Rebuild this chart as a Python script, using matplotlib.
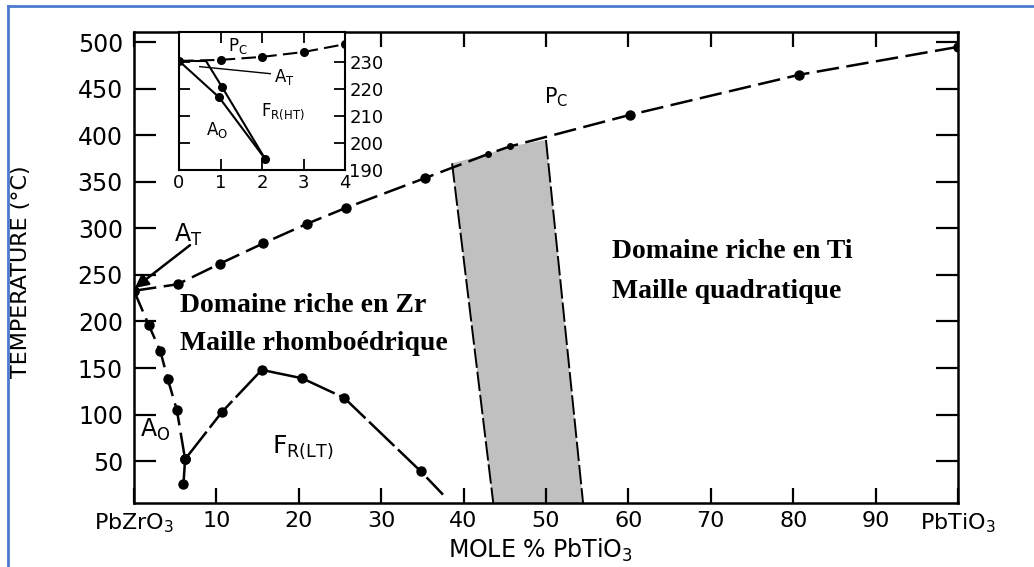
import matplotlib.pyplot as plt
import numpy as np
from matplotlib.lines import Line2D

# ---- main diagram data (mole % PbTiO3, temperature in C) ----
pc_x = [0, 5.3, 10.4, 15.7, 21.0, 25.7, 35.3, 43.0, 45.6, 60.2, 80.7, 100]
pc_t = [233, 240, 262, 284, 305, 322, 354, 380, 388, 422, 465, 495]
pc_small = [43.0, 45.6]          # the two small dots inside the grey band
pc_small_t = [380, 388]

ao_x = [0, 1.8, 3.2, 4.1, 5.2, 6.2]
ao_t = [233, 196, 168, 138, 105, 52]
ao_low_x = [6.2, 6.0]
ao_low_t = [52, 25]

fr_x = [6.2, 10.7, 15.5, 20.4, 25.5, 34.8, 37.5]
fr_t = [52, 103, 148, 139, 118, 39, 14]
fr_dots = 6                      # last point is only the end of the line

# morphotropic band (left and right edges)
band_left_x = [38.6, 43.6]
band_left_t = [370, 5]
band_right_x = [50.0, 54.5]
band_right_t = [395, 5]

xticks = [0, 10, 20, 30, 40, 50, 60, 70, 80, 90, 100]
xlabels = ['PbZrO$_3$', '10', '20', '30', '40', '50', '60', '70', '80', '90', 'PbTiO$_3$']
yticks = [50, 100, 150, 200, 250, 300, 350, 400, 450, 500]

# ---- inset data ----
in_pc_x = [0, 1, 2, 3, 4]
in_pc_t = [230.3, 230.7, 231.8, 233.6, 236.5]
in_ao_x = [0, 0.97, 2.08]
in_ao_t = [230.3, 216.8, 194.0]
in_at_x = [0.65, 1.04, 2.08]
in_at_t = [230.3, 220.6, 194.0]
in_top_x = [0, 0.65]
in_top_t = [230.3, 230.3]

fig = plt.figure(figsize=(10.34, 5.67), dpi=100)

ax = fig.add_axes([134/1034, 64/567, 824/1034, 471/567])
ax.set_xlim(0, 100)
ax.set_ylim(5, 511)

dash = (9, 3)

# grey band
poly_x = [band_left_x[1], band_left_x[0], pc_x[7], pc_x[8], band_right_x[0], band_right_x[1]]
poly_t = [band_left_t[1], band_left_t[0], pc_t[7], pc_t[8], band_right_t[0], band_right_t[1]]
ax.fill(poly_x, poly_t, color='#c0c0c0', zorder=1, lw=0)
ax.plot(band_left_x, band_left_t, color='black', lw=1.4, dashes=(10, 2), zorder=2)
ax.plot(band_right_x, band_right_t, color='black', lw=1.4, dashes=(10, 2), zorder=2)

# phase boundaries
ax.plot(pc_x, pc_t, color='black', lw=1.8, dashes=dash, zorder=3)
big = [i for i in range(len(pc_x)) if pc_x[i] not in pc_small]
ax.plot([pc_x[i] for i in big], [pc_t[i] for i in big], 'o', color='black', ms=6.5, zorder=4)
ax.plot(pc_small, pc_small_t, 'o', color='black', ms=4, zorder=4)

ax.plot(ao_x, ao_t, color='black', lw=1.8, dashes=dash, marker='o', ms=6.5, zorder=3)
ax.plot(ao_low_x, ao_low_t, color='black', lw=1.8, marker='o', ms=6.5, zorder=3)
ax.plot(fr_x, fr_t, color='black', lw=1.8, dashes=(14, 2), zorder=3)
ax.plot(fr_x[:fr_dots], fr_t[:fr_dots], 'o', color='black', ms=6.5, zorder=4)

# axes styling
ax.set_xticks(xticks)
ax.set_xticklabels(xlabels, fontsize=16)
ax.set_yticks(yticks)
ax.set_yticklabels([str(v) for v in yticks], fontsize=17)
ax.tick_params(axis='x', direction='in', length=11, width=1.6, top=True, pad=6)
ax.tick_params(axis='y', direction='in', length=16, width=1.6, right=True, pad=8)
for s in ax.spines.values():
    s.set_linewidth(1.8)

fig.text(540/1034, 1 - 550/567, 'MOLE % PbTiO$_3$', fontsize=17, ha='center', va='center')
fig.text(21/1034, 1 - 272/567, 'TEMPERATURE (°C)', fontsize=16, ha='center', va='center',
         rotation=90)

# labels on the diagram
ax.text(51.2, 441, 'P$_\\mathrm{C}$', fontsize=15, ha='center', va='center')
ax.text(6.6, 293, 'A$_\\mathrm{T}$', fontsize=17, ha='center', va='center')
ax.annotate('', xy=(0.1, 236), xytext=(6.8, 282),
            arrowprops=dict(arrowstyle='-|>', color='black', lw=1.8, mutation_scale=20,
                            shrinkA=0, shrinkB=0))
ax.text(2.6, 83, 'A$_\\mathrm{O}$', fontsize=17, ha='center', va='center')
ax.text(20.5, 65, 'F$_\\mathrm{R(LT)}$', fontsize=18, ha='center', va='center')

serif = dict(family='Liberation Serif', weight='bold', fontsize=20, va='center', ha='left')
ax.text(5.6, 217, 'Domaine riche en Zr', **serif)
ax.text(5.6, 176, 'Maille rhomboédrique', **serif)
ax.text(58, 275, 'Domaine riche en Ti', **serif)
ax.text(58, 232, 'Maille quadratique', **serif)

# ---- inset ----
ins = fig.add_axes([179/1034, (567-170)/567, 166/1034, 138/567])
ins.set_zorder(5)
ins.set_facecolor('white')
ins.set_xlim(0, 4)
ins.set_ylim(190, 241)
ins.plot(in_pc_x, in_pc_t, color='black', lw=1.5, dashes=(7, 3), marker='o', ms=5.5)
ins.plot(in_ao_x, in_ao_t, color='black', lw=1.5)
ins.plot(in_ao_x[1:2], in_ao_t[1:2], 'o', color='black', ms=5.5)
ins.plot(in_at_x, in_at_t, color='black', lw=1.5, marker='o', ms=5.5, markevery=[1, 2])
ins.plot(in_top_x, in_top_t, color='black', lw=1.5)
ins.plot([0.5, 2.2], [228.2, 225.6], color='black', lw=1.0)
ins.set_xticks([0, 1, 2, 3, 4])
ins.set_yticks([190, 200, 210, 220, 230])
ins.tick_params(direction='in', top=True, right=True, labelleft=False, labelright=True,
                labelsize=13, length=8, width=1.3, pad=3)
for s in ins.spines.values():
    s.set_linewidth(1.5)
ins.text(1.42, 235.8, 'P$_\\mathrm{C}$', fontsize=12, ha='center', va='center')
ins.text(2.55, 224.5, 'A$_\\mathrm{T}$', fontsize=12, ha='center', va='center')
ins.text(2.5, 211.6, 'F$_\\mathrm{R(HT)}$', fontsize=12, ha='center', va='center')
ins.text(0.92, 204.6, 'A$_\\mathrm{O}$', fontsize=12, ha='center', va='center')

# blue frame of the original picture
fig.add_artist(Line2D([8/1034, 1], [1 - 6/567, 1 - 6/567], color='#4a7bd0', lw=2))
fig.add_artist(Line2D([8/1034, 8/1034], [0, 1 - 6/567], color='#4a7bd0', lw=2))

fig.savefig('out.png', dpi=100)
